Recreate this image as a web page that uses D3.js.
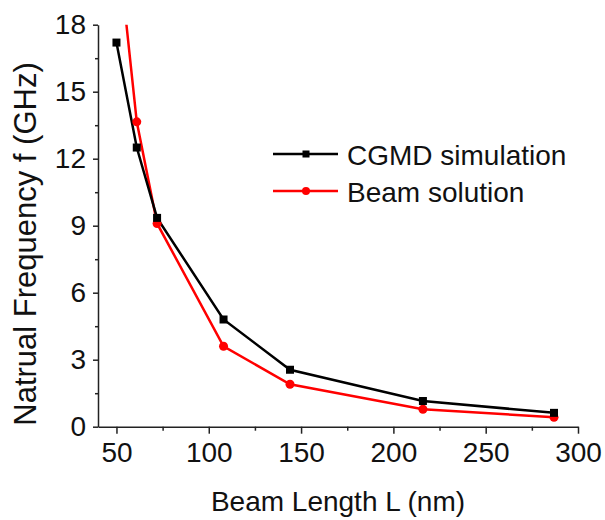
<!DOCTYPE html>
<html>
<head>
<meta charset="utf-8">
<script src="https://cdn.jsdelivr.net/npm/d3@7"></script>
<style>
  body { margin: 0; background: #fff; }
  svg text { font-family: "Liberation Sans", Arial, sans-serif; fill: #111; }
</style>
</head>
<body>
<svg id="chart" width="605" height="520"></svg>
<script>
  // beam lengths (nm)
  var cgmdLength = [50, 61, 72, 108, 144, 216, 287];
  var cgmdFreq = [17.2, 12.5, 9.35, 4.8, 2.55, 1.15, 0.62];
  // first beam point sits above the frame and gets clipped
  var beamLength = [50, 61, 72, 108, 144, 216, 287];
  var beamFreq = [22.2, 13.65, 9.1, 3.6, 1.9, 0.78, 0.42];
  var beamMarked = [false, true, true, true, true, true, true];

  var xMajor = [50, 100, 150, 200, 250, 300];
  var xMinor = [75, 125, 175, 225, 275];
  var yMajor = [0, 3, 6, 9, 12, 15, 18];
  var yMinor = [1.5, 4.5, 7.5, 10.5, 13.5, 16.5];

  var legendNames = ['CGMD simulation', 'Beam solution'];

(function() {
  var svg = d3.select('#chart');
  var padL = 98, padR = 578, padT = 24.7, padB = 426.7;

  var x = d3.scaleLinear().domain([40, 300]).range([padL, padR]);
  var y = d3.scaleLinear().domain([0, 18]).range([padB, padT]);

  svg.append('clipPath').attr('id', 'plotClip')
    .append('rect').attr('x', padL).attr('y', padT)
    .attr('width', padR - padL).attr('height', padB - padT);

  // axes
  function styleAxis(g) {
    g.select('.domain').attr('stroke', '#222').attr('stroke-width', 1.5);
    g.selectAll('.tick line').attr('stroke', '#222').attr('stroke-width', 1.5);
    return g;
  }

  var xAxis = svg.append('g').attr('transform', 'translate(0,' + padB + ')')
    .call(d3.axisBottom(x).tickValues(xMajor).tickSize(7).tickSizeOuter(0).tickPadding(8));
  styleAxis(xAxis);
  xAxis.selectAll('text').attr('font-size', 28).attr('fill', '#111')
    .style('font-family', '"Liberation Sans", Arial, sans-serif');

  var xAxisMinor = svg.append('g').attr('transform', 'translate(0,' + padB + ')')
    .call(d3.axisBottom(x).tickValues(xMinor).tickSize(4).tickFormat(''));
  styleAxis(xAxisMinor);
  xAxisMinor.select('.domain').remove();

  var yAxis = svg.append('g').attr('transform', 'translate(' + padL + ',0)')
    .call(d3.axisLeft(y).tickValues(yMajor).tickSize(5).tickSizeOuter(0).tickPadding(7));
  styleAxis(yAxis);
  yAxis.selectAll('text').attr('font-size', 28).attr('fill', '#111')
    .style('font-family', '"Liberation Sans", Arial, sans-serif');

  var yAxisMinor = svg.append('g').attr('transform', 'translate(' + padL + ',0)')
    .call(d3.axisLeft(y).tickValues(yMinor).tickSize(3).tickFormat(''));
  styleAxis(yAxisMinor);
  yAxisMinor.select('.domain').remove();

  // titles
  svg.append('text').attr('x', (padL + padR) / 2).attr('y', 511)
    .attr('text-anchor', 'middle').attr('font-size', 28)
    .text('Beam Length L (nm)');

  svg.append('text').attr('transform', 'translate(36,244) rotate(-90)')
    .attr('text-anchor', 'middle').attr('font-size', 31)
    .text('Natrual Frequency f (GHz)');

  // series
  var plot = svg.append('g').attr('clip-path', 'url(#plotClip)');

  var cgmd = cgmdLength.map(function(d, i) { return [d, cgmdFreq[i]]; });
  var beam = beamLength.map(function(d, i) { return [d, beamFreq[i], beamMarked[i]]; });

  var line = d3.line()
    .x(function(d) { return x(d[0]); })
    .y(function(d) { return y(d[1]); });

  plot.append('path').datum(beam)
    .attr('d', line).attr('fill', 'none')
    .attr('stroke', '#ff0000').attr('stroke-width', 2.5);

  plot.append('path').datum(cgmd)
    .attr('d', line).attr('fill', 'none')
    .attr('stroke', '#000').attr('stroke-width', 2.5);

  plot.selectAll('circle.beam').data(beam.filter(function(d) { return d[2]; }))
    .enter().append('circle').attr('class', 'beam')
    .attr('cx', function(d) { return x(d[0]); })
    .attr('cy', function(d) { return y(d[1]); })
    .attr('r', 4.5).attr('fill', '#ff0000');

  plot.selectAll('rect.cgmd').data(cgmd)
    .enter().append('rect').attr('class', 'cgmd')
    .attr('x', function(d) { return x(d[0]) - 4; })
    .attr('y', function(d) { return y(d[1]) - 4; })
    .attr('width', 8).attr('height', 8).attr('fill', '#000');

  // legend
  var legend = svg.append('g');
  var legendColors = ['#000', '#ff0000'];
  legendNames.forEach(function(name, i) {
    var ly = 154 + i * 37;
    legend.append('line').attr('x1', 273).attr('x2', 338)
      .attr('y1', ly).attr('y2', ly)
      .attr('stroke', legendColors[i]).attr('stroke-width', 2.5);
    if (i === 0) {
      legend.append('rect').attr('x', 306 - 3.5).attr('y', ly - 3.5)
        .attr('width', 7).attr('height', 7).attr('fill', legendColors[i]);
    } else {
      legend.append('circle').attr('cx', 306).attr('cy', ly).attr('r', 4)
        .attr('fill', legendColors[i]);
    }
    legend.append('text').attr('x', 347).attr('y', ly + 11)
      .attr('font-size', 28).text(name);
  });
})();
</script>
</body>
</html>
